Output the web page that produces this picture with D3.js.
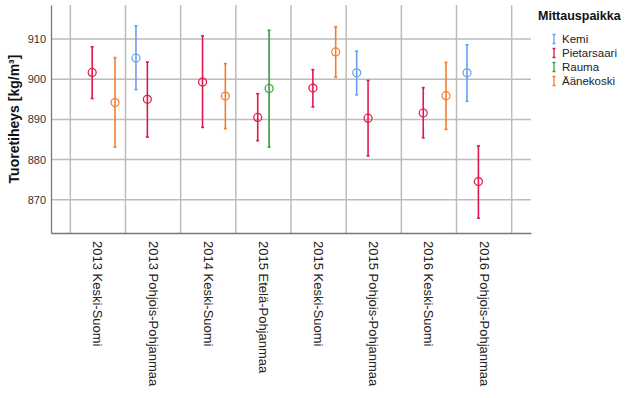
<!DOCTYPE html>
<html>
<head>
<meta charset="utf-8">
<script src="https://cdn.jsdelivr.net/npm/d3@7"></script>
<style>
  body { margin: 0; background: #fff; }
  svg { font-family: Arial, "Liberation Sans", sans-serif; }
</style>
</head>
<body>
<div id="chart"></div>
<script>
// categories on the x axis
var categories = ["2013 Keski-Suomi", "2013 Pohjois-Pohjanmaa", "2014 Keski-Suomi",
  "2015 Etelä-Pohjanmaa", "2015 Keski-Suomi", "2015 Pohjois-Pohjanmaa",
  "2016 Keski-Suomi", "2016 Pohjois-Pohjanmaa"];

var series = ["Kemi", "Pietarsaari", "Rauma", "Äänekoski"];
var colors = ["#6a9ef0", "#e0194c", "#3a9a3a", "#f47c30"];

var yTicks = [870, 880, 890, 900, 910];

// [category, series, mean, low, high]
var points = [
  ["2013 Keski-Suomi", "Pietarsaari", 901.7, 895.2, 908.1],
  ["2013 Keski-Suomi", "Äänekoski", 894.2, 883.1, 905.4],
  ["2013 Pohjois-Pohjanmaa", "Kemi", 905.3, 897.4, 913.3],
  ["2013 Pohjois-Pohjanmaa", "Pietarsaari", 895.0, 885.6, 904.3],
  ["2014 Keski-Suomi", "Pietarsaari", 899.3, 888.0, 910.8],
  ["2014 Keski-Suomi", "Äänekoski", 895.8, 887.7, 903.9],
  ["2015 Etelä-Pohjanmaa", "Pietarsaari", 890.5, 884.7, 896.4],
  ["2015 Etelä-Pohjanmaa", "Rauma", 897.7, 883.1, 912.2],
  ["2015 Keski-Suomi", "Pietarsaari", 897.8, 893.1, 902.4],
  ["2015 Keski-Suomi", "Äänekoski", 906.8, 900.5, 913.1],
  ["2015 Pohjois-Pohjanmaa", "Kemi", 901.6, 896.1, 907.0],
  ["2015 Pohjois-Pohjanmaa", "Pietarsaari", 890.3, 880.9, 899.7],
  ["2016 Keski-Suomi", "Pietarsaari", 891.6, 885.4, 897.9],
  ["2016 Keski-Suomi", "Äänekoski", 895.9, 887.5, 904.2],
  ["2016 Pohjois-Pohjanmaa", "Kemi", 901.6, 894.5, 908.6],
  ["2016 Pohjois-Pohjanmaa", "Pietarsaari", 874.5, 865.4, 883.4]
];

var svgWidth = 630;
var svgHeight = 398;

var margin = { top: 5, right: 99, bottom: 165, left: 51 };
var width = svgWidth - margin.left - margin.right;
var height = svgHeight - margin.top - margin.bottom;

var svg = d3.select("#chart")
  .append("svg")
  .attr("width", svgWidth)
  .attr("height", svgHeight);

var chartGroup = svg.append("g")
  .attr("transform", `translate(${margin.left}, ${margin.top})`);

var xScale = d3.scaleBand()
  .domain(categories)
  .range([0, width])
  .paddingInner(0)
  .paddingOuter(0.35);

var xInner = d3.scalePoint()
  .domain(series)
  .range([0, xScale.bandwidth()])
  .padding(0.92);

var yScale = d3.scaleLinear()
  .domain([861.7, 918.5])
  .range([height, 0]);

var color = d3.scaleOrdinal().domain(series).range(colors);

// horizontal grid
chartGroup.append("g")
  .selectAll("line")
  .data(yTicks)
  .enter()
  .append("line")
  .attr("x1", 0)
  .attr("x2", width)
  .attr("y1", d => yScale(d))
  .attr("y2", d => yScale(d))
  .attr("stroke", "#bdbdbd")
  .attr("stroke-width", 1.5);

// vertical grid at band boundaries
var bounds = categories.map(c => xScale(c)).concat([xScale(categories[categories.length - 1]) + xScale.bandwidth()]);
chartGroup.append("g")
  .selectAll("line")
  .data(bounds)
  .enter()
  .append("line")
  .attr("x1", d => d)
  .attr("x2", d => d)
  .attr("y1", 0)
  .attr("y2", height)
  .attr("stroke", "#bdbdbd")
  .attr("stroke-width", 1.5);

// axes
var leftAxis = d3.axisLeft(yScale).tickValues(yTicks).tickSize(0).tickPadding(5);
var yAxisG = chartGroup.append("g").call(leftAxis);
yAxisG.select(".domain").attr("stroke", "#777").attr("stroke-width", 1.3);
yAxisG.selectAll("text").attr("font-size", "11px").attr("fill", "#333")
  .attr("font-family", "Arial, 'Liberation Sans', sans-serif");

var bottomAxis = d3.axisBottom(xScale).tickSize(0);
var xAxisG = chartGroup.append("g")
  .attr("transform", `translate(0,${height})`)
  .call(bottomAxis);
xAxisG.select(".domain").attr("stroke", "#777").attr("stroke-width", 1.3);
xAxisG.selectAll("text")
  .attr("font-size", "13px")
  .attr("fill", "#222")
  .attr("font-family", "Arial, 'Liberation Sans', sans-serif")
  .attr("text-anchor", "start")
  .attr("transform", "rotate(90)")
  .attr("x", 8)
  .attr("y", 0)
  .attr("dy", "0.35em");

// error bars
var bars = chartGroup.append("g")
  .selectAll("g")
  .data(points)
  .enter()
  .append("g")
  .attr("transform", d => `translate(${xScale(d[0]) + xInner(d[1])},0)`)
  .attr("stroke", d => color(d[1]))
  .attr("fill", "none");

bars.append("line")
  .attr("y1", d => yScale(d[3]))
  .attr("y2", d => yScale(d[4]))
  .attr("stroke-width", 1.6);

bars.append("line")
  .attr("x1", -1.5).attr("x2", 1.5)
  .attr("y1", d => yScale(d[4]))
  .attr("y2", d => yScale(d[4]))
  .attr("stroke-width", 1.6);

bars.append("line")
  .attr("x1", -1.5).attr("x2", 1.5)
  .attr("y1", d => yScale(d[3]))
  .attr("y2", d => yScale(d[3]))
  .attr("stroke-width", 1.6);

bars.append("circle")
  .attr("cy", d => yScale(d[2]))
  .attr("r", 4)
  .attr("fill", "none")
  .attr("stroke-width", 1.2);

// y axis title
svg.append("text")
  .attr("transform", `translate(19,${margin.top + height / 2}) rotate(-90)`)
  .attr("text-anchor", "middle")
  .attr("font-size", "14px")
  .attr("font-weight", "bold")
  .attr("fill", "#111")
  .text("Tuoretiheys [kg/m³]");

// legend
var legend = svg.append("g").attr("transform", "translate(538,0)");
legend.append("text")
  .attr("x", 0)
  .attr("y", 20)
  .attr("font-size", "12.5px")
  .attr("font-weight", "bold")
  .attr("fill", "#111")
  .text("Mittauspaikka");

var items = legend.selectAll("g.item")
  .data(series)
  .enter()
  .append("g")
  .attr("class", "item")
  .attr("transform", (d, i) => `translate(0,${39 + i * 14})`);

items.append("path")
  .attr("d", "M16,-4.5V4.5M14.5,-4.5H17.5M14.5,4.5H17.5")
  .attr("stroke", d => color(d))
  .attr("stroke-width", 1.3)
  .attr("fill", "none");

items.append("text")
  .attr("x", 24)
  .attr("y", 4)
  .attr("font-size", "11.5px")
  .attr("fill", "#222")
  .text(d => d);
</script>
</body>
</html>
